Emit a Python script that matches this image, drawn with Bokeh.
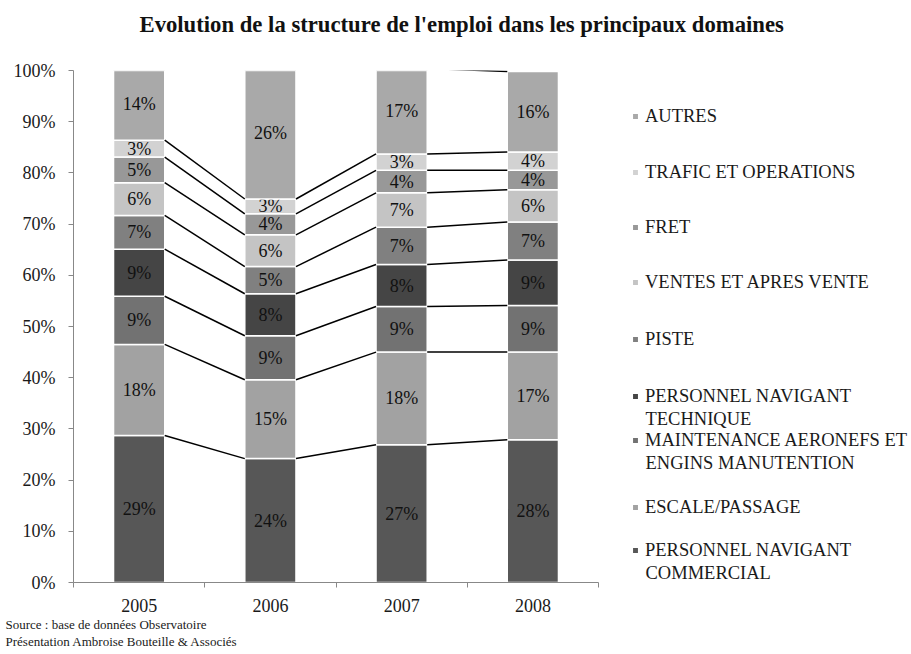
from bokeh.plotting import figure
from bokeh.models import (ColumnDataSource, Legend, LegendItem, FixedTicker,
                          PrintfTickFormatter, Range1d, Title, Label)
from bokeh.embed import file_html
from bokeh.resources import INLINE
from bokeh.core.properties import value

# ---------------- data (percent of employment) ----------------
years = ["2005", "2006", "2007", "2008"]
series_names = [
    "PERSONNEL NAVIGANT\nCOMMERCIAL",
    "ESCALE/PASSAGE",
    "MAINTENANCE AERONEFS ET\nENGINS MANUTENTION",
    "PERSONNEL NAVIGANT\nTECHNIQUE",
    "PISTE",
    "VENTES ET APRES VENTE",
    "FRET",
    "TRAFIC ET OPERATIONS",
    "AUTRES",
]
pnc = [28.7, 24.2, 26.9, 27.9]
escale = [17.8, 15.4, 18.1, 17.1]
maintenance = [9.4, 8.6, 8.9, 9.1]
pnt = [9.2, 8.2, 8.2, 8.9]
piste = [6.6, 5.3, 7.3, 7.4]
ventes = [6.4, 6.2, 6.7, 6.3]
fret = [5.0, 4.1, 4.4, 3.8]
trafic = [3.3, 2.9, 3.2, 3.6]
autres = [14.0, 25.6, 16.7, 15.7]
series_values = [pnc, escale, maintenance, pnt, piste, ventes, fret, trafic, autres]
colors = ["#575757", "#a2a2a2", "#727272", "#454545", "#808080",
          "#c4c4c4", "#989898", "#d2d2d2", "#a9a9a9"]

TITLE = "Evolution de la structure de l'emploi dans les principaux domaines"
SOURCE_1 = "Source : base de données Observatoire"
SOURCE_2 = "Présentation Ambroise Bouteille & Associés"

FONT = "Liberation Serif"
BAR_W = 0.39

# ---------------- layout constants (pixels) ----------------
W, H = 911, 650
LEFT, TOP, BOTTOM_BORDER = 73, 70, 68
AXIS_PX = 525                       # width of the bar area
FRAME_W = W - LEFT                  # frame also hosts the legend on the right
FRAME_BOTTOM = H - BOTTOM_BORDER    # 582
n = len(years)
x_end = 0.5 + n * FRAME_W / AXIS_PX

# ---------------- figure ----------------
p = figure(width=W, height=H, x_range=Range1d(0.5, x_end), y_range=Range1d(0, 100),
           output_backend="svg", toolbar_location=None,
           min_border_left=LEFT, min_border_right=0, min_border_top=TOP,
           min_border_bottom=BOTTOM_BORDER)
p.outline_line_color = None
p.xgrid.visible = False
p.ygrid.visible = False
p.background_fill_color = "white"

# real title (outer) + an empty spacer title between it and the frame
p.title.text = TITLE
p.title.text_font = FONT
p.title.text_font_size = "22.7px"
p.title.text_font_style = "bold"
p.title.text_color = "#111111"
p.title.align = "left"
p.title.offset = 66
p.title.standoff = 0
p.add_layout(Title(text=" ", text_font_size="2px", standoff=30), "above")

# y axis
ya = p.yaxis[0]
ya.ticker = FixedTicker(ticks=list(range(0, 101, 10)), minor_ticks=[])
ya.formatter = PrintfTickFormatter(format="%d%%")
ya.axis_line_color = "#888888"
ya.major_tick_line_color = "#888888"
ya.major_tick_out = 5
ya.major_tick_in = 0
ya.minor_tick_line_color = None
ya.major_label_standoff = 13
ya.major_label_text_font = FONT
ya.major_label_text_font_size = "18px"
ya.major_label_text_color = "#1a1a1a"

# x axis (limited to the bar area)
xs = [i + 1 for i in range(n)]
xa = p.xaxis[0]
xa.bounds = (0.5, n + 0.5)
xa.ticker = FixedTicker(ticks=xs, minor_ticks=[x - 0.5 for x in xs] + [xs[-1] + 0.5])
xa.major_label_overrides = {x: y for x, y in zip(xs, years)}
xa.axis_line_color = "#888888"
xa.major_tick_line_color = None
xa.major_tick_out = 0
xa.major_tick_in = 0
xa.minor_tick_line_color = "#888888"
xa.minor_tick_out = 5
xa.minor_tick_in = 0
xa.major_label_standoff = 11
xa.major_label_text_font = FONT
xa.major_label_text_font_size = "18px"
xa.major_label_text_color = "#1a1a1a"

# ---------------- stacked bars ----------------
bottoms = [0.0] * n
renderers = []
boundaries = []
for name, vals, col in zip(series_names, series_values, colors):
    tops = [b + v for b, v in zip(bottoms, vals)]
    src = ColumnDataSource(dict(
        x=xs, bottom=bottoms, top=tops,
        mid=[(b + t) / 2 for b, t in zip(bottoms, tops)],
        label=["%d%%" % round(v) for v in vals],
    ))
    r = p.vbar(x="x", bottom="bottom", top="top", width=BAR_W, source=src,
               fill_color=col, line_color="white", line_width=1.5)
    renderers.append(r)
    p.text(x="x", y="mid", text="label", source=src, text_align="center",
           text_baseline="middle", text_font=value(FONT), text_font_size="18px",
           text_color="#111111")
    boundaries.append(tops)
    bottoms = tops

# series lines between bars
seg = dict(x0=[], y0=[], x1=[], y1=[])
for tops in boundaries:
    for i in range(n - 1):
        seg["x0"].append(xs[i] + BAR_W / 2)
        seg["y0"].append(tops[i])
        seg["x1"].append(xs[i + 1] - BAR_W / 2)
        seg["y1"].append(tops[i + 1])
p.segment(x0="x0", y0="y0", x1="x1", y1="y1", source=ColumnDataSource(seg),
          line_color="black", line_width=1.5)

# ---------------- legend (one block per entry, top to bottom) ----------------
legend_line1_y = [116, 172, 227, 282, 339, 396, 440, 507, 550]   # px from top
LINE_H = 22
GLYPH_X = 631 - LEFT
TEXT_X = 645 - LEFT
LEG_FONT_SIZE = "18.5px"
for k, idx in enumerate(reversed(range(len(series_names)))):
    lines = series_names[idx].split("\n")
    yc = legend_line1_y[k]
    lg = Legend(items=[LegendItem(label=lines[0], renderers=[renderers[idx]])],
                location=(GLYPH_X, FRAME_BOTTOM - (yc + LINE_H / 2)),
                padding=0, margin=0, spacing=0,
                glyph_width=8, glyph_height=8, label_standoff=6,
                label_height=LINE_H, label_text_font=FONT,
                label_text_font_size=LEG_FONT_SIZE, label_text_color="#1a1a1a",
                border_line_color=None, background_fill_alpha=0)
    p.add_layout(lg, "center")
    for j, extra in enumerate(lines[1:], start=1):
        p.add_layout(Label(x=TEXT_X, y=FRAME_BOTTOM - (yc + j * LINE_H),
                           x_units="screen", y_units="screen", text=extra,
                           text_font=FONT, text_font_size=LEG_FONT_SIZE,
                           text_color="#1a1a1a", text_baseline="middle",
                           text_align="left"))

# ---------------- source note ----------------
for txt in [SOURCE_1, SOURCE_2]:
    t = Title(text=txt, align="left", offset=-68, text_font=FONT,
              text_font_size="13px", text_font_style="normal",
              text_color="#1a1a1a", standoff=0)
    p.add_layout(t, "below")

open("out.html", "w").write(file_html(p, INLINE))
